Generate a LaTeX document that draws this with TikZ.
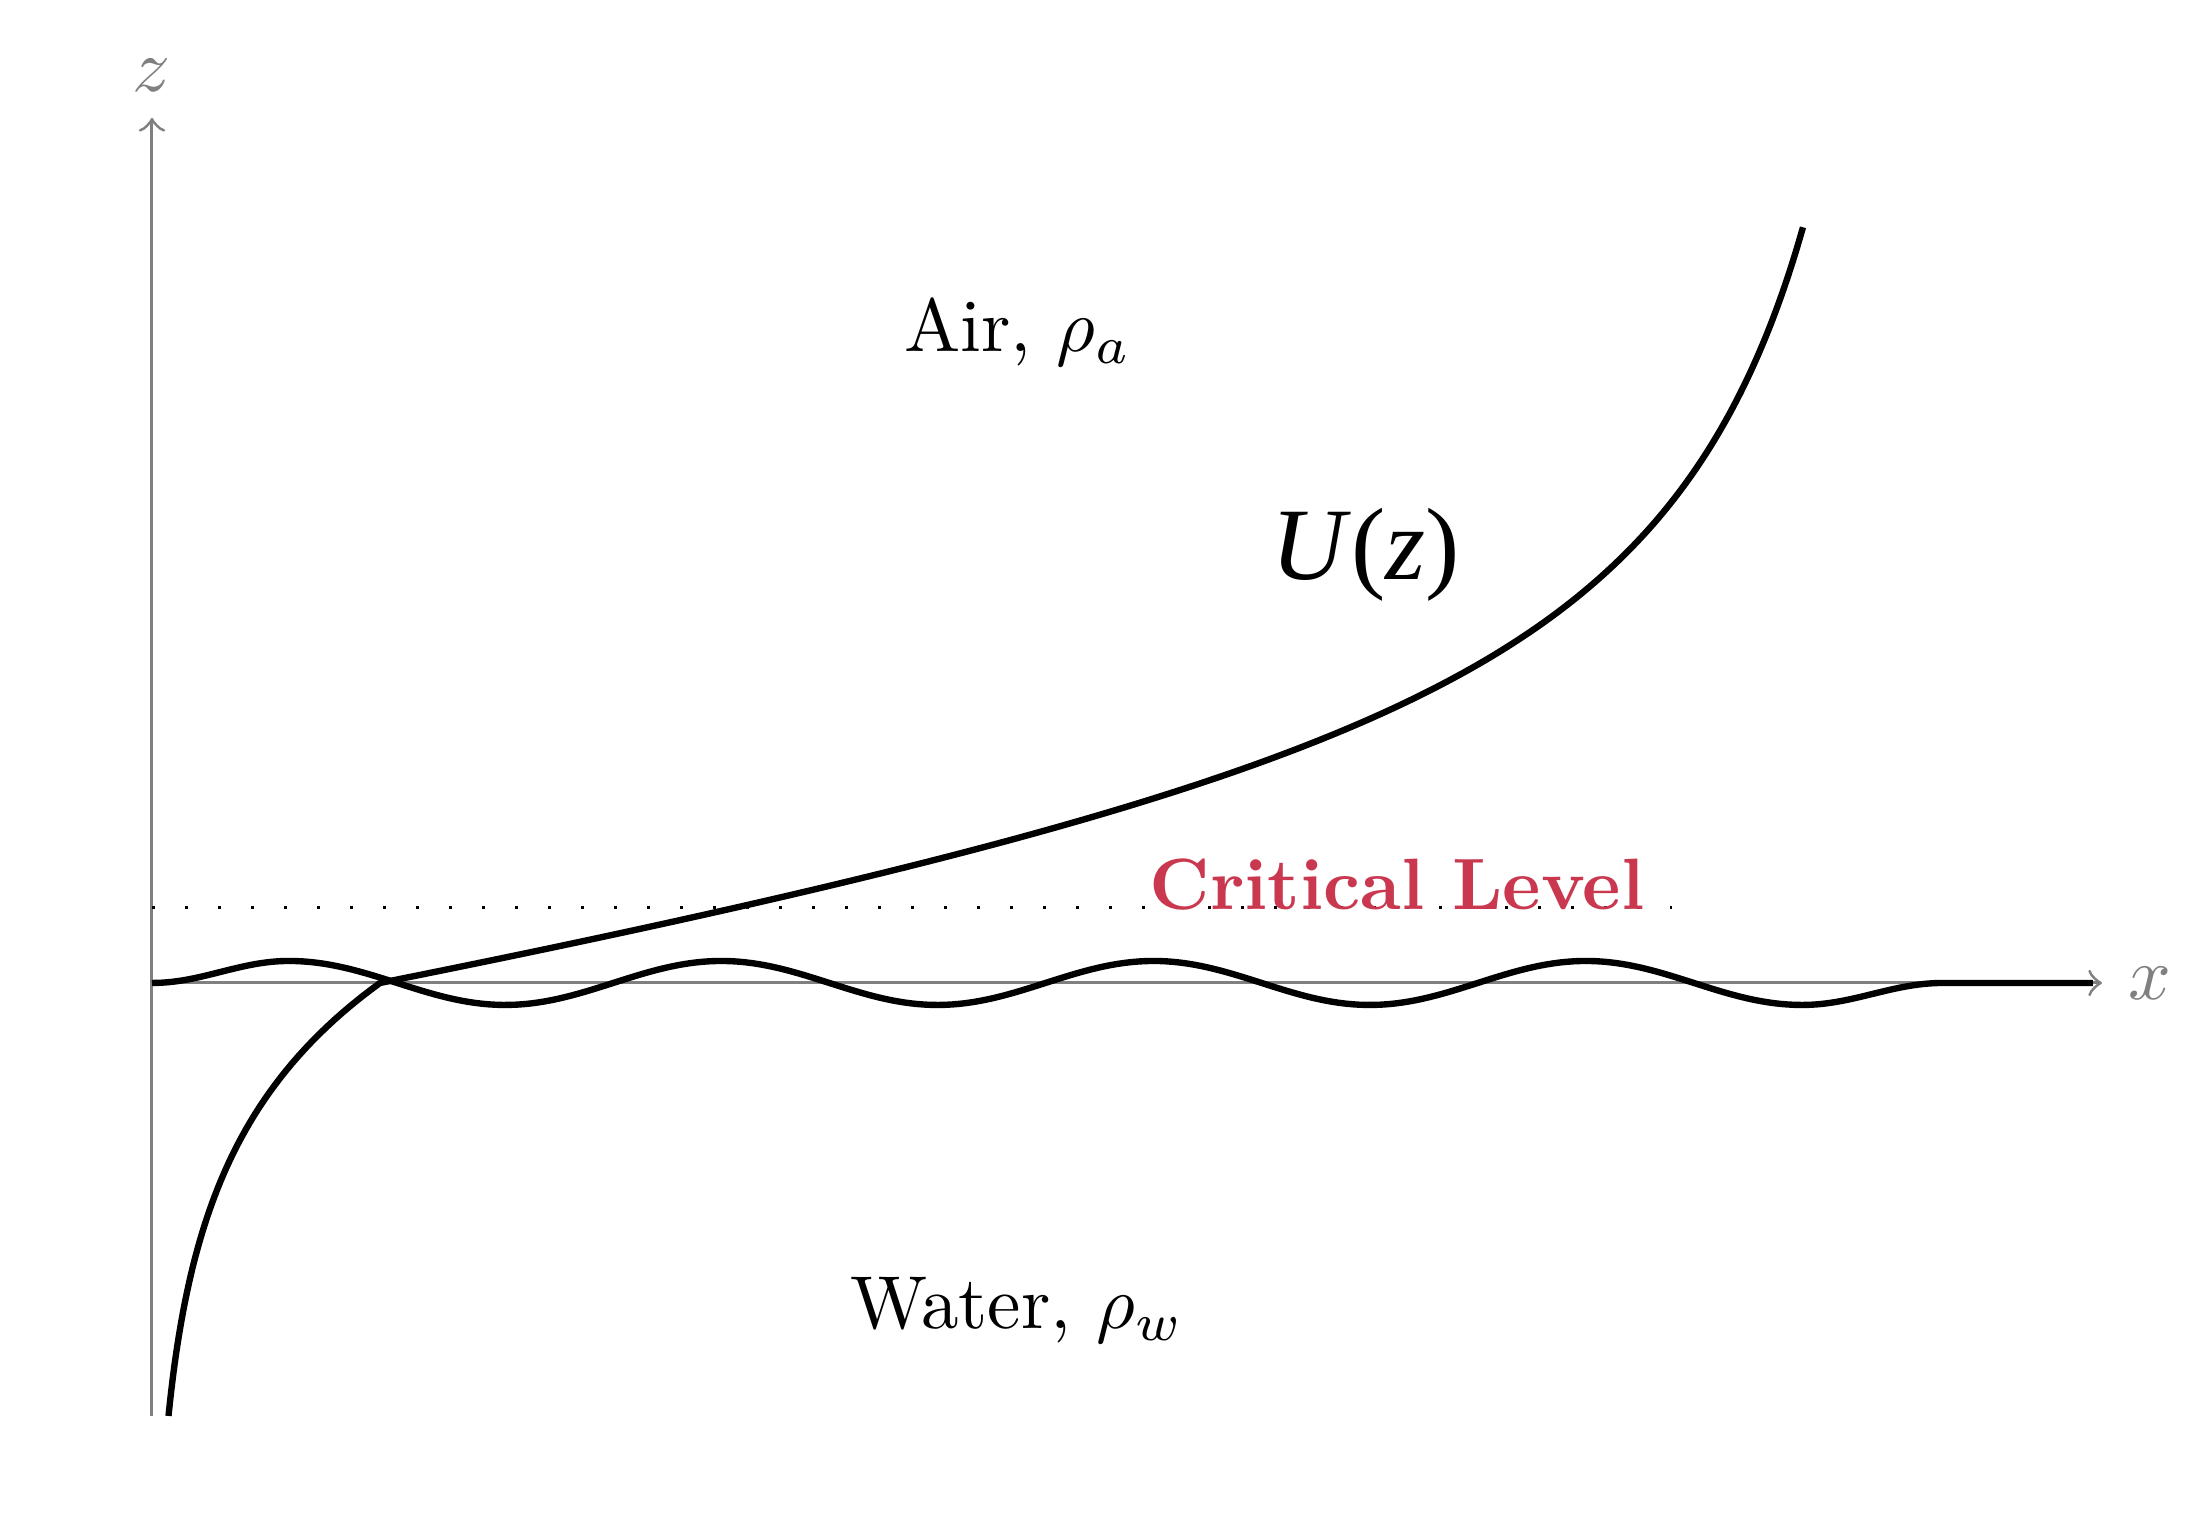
\documentclass[tikz,border=0pt]{standalone}
\usepackage{fontspec}
\newfontfamily\uzfont{Liberation Serif}
\definecolor{axisgray}{RGB}{128,128,128}
\definecolor{critred}{RGB}{201,56,79}
\begin{document}
\begin{tikzpicture}[x=0.13333pt,y=-0.13333pt,
  axis/.style={draw=axisgray,line width=0.4pt},
  curve/.style={draw=black,line width=0.85pt,line join=round},
  axlabel/.style={text=axisgray,font=\fontsize{10}{12}\selectfont},
  region/.style={font=\fontsize{10}{12}\selectfont,anchor=base,inner sep=0pt},
  critline/.style={draw=black,line width=0.4pt,loosely dotted}]
\useasboundingbox (0,0) rectangle (2208,1530);
\coordinate (ybot) at (152,1416);
\coordinate (ytop) at (152,118);
\coordinate (orig) at (152,983);
\coordinate (xend) at (2102,983);
\coordinate (cl0) at (152,908);
\coordinate (cl1) at (1672,908);
\coordinate (wend) at (2093,983);
% axes
\draw[axis,->] (ybot) -- (ytop) node[above,axlabel] (zlab) {$z$};
\draw[axis,->] (orig) -- (xend) node[right,axlabel] (xlab) {$x$};
% critical level
\draw[critline] (cl0) -- (cl1);
% wave
\draw[curve] plot[domain=152:289,samples=30] (\x,{983-11*(1-cos((\x-152)/137*180))})
  -- plot[domain=289:1802,samples=220] (\x,{983-22*cos((\x-289)/216.14*180)})
  -- plot[domain=1802:1943,samples=30] (\x,{983+11*(1+cos((\x-1802)/141*180))})
  -- (wend);
% U(z) profile: water part, then air part
\draw[curve] plot[domain=-433:0,samples=60,variable=\t] ({152+228*exp(\t/165)},{983-\t})
  -- plot[domain=380:1803,samples=220,smooth] (\x,{983-(0.158828*(\x-380)+105.4/((1980-\x)/1000)-65.875)});
% labels
\node[region] (air) at (1018,352) {Air, $\rho_a$};
\node[region] (water) at (1017,1329) {Water, $\rho_w$};
\node[anchor=base,inner sep=0pt,font=\uzfont\fontsize{13.7}{16}\selectfont] (uz) at (1366,580) {\textit{U}(\textit{z})};
\node[anchor=base,inner sep=0pt,text=critred,font=\bfseries\fontsize{9.7}{12}\selectfont] (crit) at (1397,910) {Critical Level};
\end{tikzpicture}
\end{document}
